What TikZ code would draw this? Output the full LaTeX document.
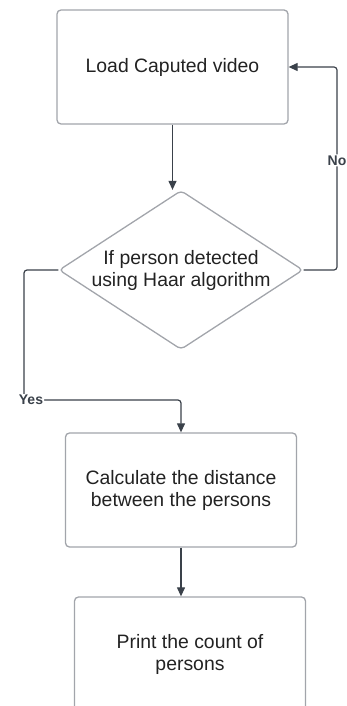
\documentclass[tikz,border=0pt]{standalone}
\usepackage{fontspec}
\setmainfont{Liberation Sans}
\usetikzlibrary{shapes.geometric,arrows.meta}
\definecolor{boxline}{HTML}{A2A5AB}
\definecolor{flowline}{HTML}{3A414A}
\definecolor{txt}{HTML}{222222}

\begin{document}
\begin{tikzpicture}[x=1pt,y=-1pt,
    every node/.style = {align=center, text=txt,
      font=\fontsize{19.4}{22}\selectfont},
    process/.style = {shape=rectangle, draw=boxline, line width=1.3pt,
      rounded corners=4pt, minimum width=231pt, minimum height=114pt},
    decision/.style = {shape=diamond, draw=boxline, line width=1.3pt,
      rounded corners=4pt, inner sep=0pt, aspect=1.53,
      minimum width=244pt, minimum height=159pt},
    flow/.style = {draw=flowline, line width=1.2pt, rounded corners=3pt,
      -{Triangle[length=9pt,width=8pt]}},
    lbl/.style = {fill=white, inner sep=1pt, text=flowline,
      font=\fontsize{14}{16}\selectfont\bfseries}]
  \useasboundingbox (0,0) rectangle (347,706);
  \node[process] (load) at (172.5,67) {Load Caputed video};
  \node[decision] (detect) at (181,270) {If person detected\\ using Haar algorithm};
  \node[process] (dist) at (181,490) {Calculate the distance\\ between the persons};
  \node[process] (count) at (190,654) {Print the count of\\ persons};
  \coordinate (noturn) at (337,67);
  \coordinate (yesturn) at (24,400);
  \draw[flow] (load.south) -- (load.south |- detect.north);
  \draw[flow] (detect.east) -| (noturn) node[lbl, pos=0.77] {No} -- (load.east);
  \draw[flow] (detect.west) -| (yesturn) node[lbl, xshift=7pt] {Yes} -| (dist.north);
  \draw[flow] (dist.south) -- (dist.south |- count.north);
\end{tikzpicture}
\end{document}
